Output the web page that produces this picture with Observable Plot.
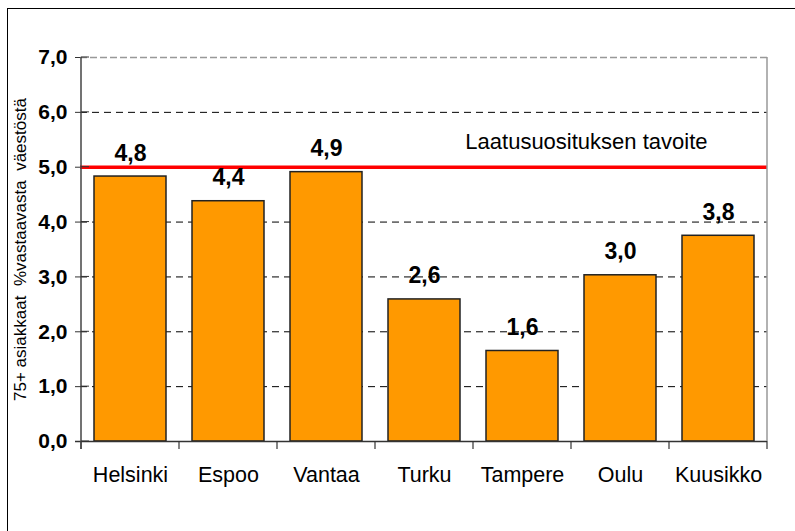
<!DOCTYPE html>
<html><head><meta charset="utf-8">
<script src="https://cdn.jsdelivr.net/npm/d3@7"></script>
<script src="https://cdn.jsdelivr.net/npm/@observablehq/plot@0.6"></script>
<style>
body{margin:0;background:#fff;}
#wrap{position:relative;width:795px;height:531px;overflow:hidden;font-family:"Liberation Sans",Arial,sans-serif;}
#border{position:absolute;left:7px;top:8px;width:840px;height:580px;border:1.5px solid #000;box-sizing:border-box;}
#chart{position:absolute;left:0;top:0;}
</style></head><body><div id="wrap"><div id="border"></div><div id="chart"></div></div>
<script>
const cities = ["Helsinki","Espoo","Vantaa","Turku","Tampere","Oulu","Kuusikko"];
const shares = [4.83,4.38,4.91,2.59,1.65,3.03,3.75];
const shareLabels = ["4,8","4,4","4,9","2,6","1,6","3,0","3,8"];
const yTicks = [0,1,2,3,4,5,6,7];
const yTickLabels = ["0,0","1,0","2,0","3,0","4,0","5,0","6,0","7,0"];
const gridValues = [1,2,3,4,5,6];
const topValue = 7;
const goalValue = 5;
const goalLabel = "Laatusuosituksen tavoite";
const yTitle = "75+ asiakkaat\u00a0 %vastaavasta\u00a0 väestöstä";

const rows = cities.map((c,i)=>({city:c, value:shares[i], label:shareLabels[i]}));
const padInner = 0.27;

function frameDecor(index, scales, values, dims) {
  const x = scales.x, y = scales.y;
  const bw = typeof x.bandwidth === "function" ? x.bandwidth() : x.bandwidth;
  const step = x(cities[1]) - x(cities[0]);
  const gap = step - bw;
  const y0 = y(0);
  const g = d3.create("svg:g");
  const bounds = cities.map(c => x(c) - gap/2);
  bounds.push(x(cities[cities.length-1]) + bw + gap/2);
  g.append("line").attr("x1", bounds[bounds.length-1]).attr("x2", bounds[bounds.length-1])
    .attr("y1", y(topValue)).attr("y2", y0).attr("stroke","#999").attr("stroke-width",1.5);
  for (const b of bounds) {
    g.append("line").attr("x1", b).attr("x2", b).attr("y1", y0).attr("y2", y0+8)
      .attr("stroke","#333").attr("stroke-width",1.2);
  }
  g.append("line").attr("x1", bounds[0]).attr("x2", bounds[0])
    .attr("y1", y(topValue)).attr("y2", y0+8).attr("stroke","#444").attr("stroke-width",1.5);
  for (const t of yTicks) {
    g.append("line").attr("x1", bounds[0]).attr("x2", bounds[0]+8).attr("y1", y(t)).attr("y2", y(t))
      .attr("stroke","#333").attr("stroke-width",1);
  }
  return g.node();
}

const chart = Plot.plot({
  width: 795,
  height: 531,
  marginLeft: 80,
  marginRight: 28,
  marginTop: 57,
  marginBottom: 90,
  style: {fontFamily: '"Liberation Sans", Arial, sans-serif', background: "transparent", color: "#000"},
  x: {domain: cities, paddingInner: padInner, paddingOuter: padInner/2, label: null},
  y: {domain: [0, 7], label: null},
  marks: [
    Plot.ruleY(gridValues, {stroke: "#000", strokeWidth: 1, strokeDasharray: "7,5"}),
    Plot.ruleY([topValue], {stroke: "#999", strokeWidth: 1.5, strokeDasharray: "7,3"}),
    Plot.barY(rows, {x: "city", y: "value", fill: "#FF9900", stroke: "#222", strokeWidth: 1.5}),
    Plot.ruleY([goalValue], {stroke: "#FF0000", strokeWidth: 3.5}),
    Plot.ruleY([0], {stroke: "#333", strokeWidth: 1.5, insetLeft: -5}),
    frameDecor,
    Plot.axisY(yTicks, {tickSize: 5, tickPadding: 8, tickFormat: (d) => yTickLabels[yTicks.indexOf(d)],
      fontSize: 21, fontWeight: "bold", stroke: "#333", label: null}),
    Plot.axisX({tickSize: 0, tickPadding: 25, fontSize: 21.5, label: null}),
    Plot.text(rows, {x: "city", y: "value", text: "label", dy: -16, lineAnchor: "bottom",
      fontSize: 23, fontWeight: "bold", fill: "#000"}),
    Plot.text([goalLabel], {y: [goalValue], text: d => d, frameAnchor: "right", dx: -60, dy: -25,
      textAnchor: "end", fontSize: 22, fill: "#000"}),
    Plot.text([yTitle], {frameAnchor: "left", dx: -60, rotate: -90, textAnchor: "middle", fontSize: 17, fill: "#000"})
  ]
});
document.getElementById("chart").appendChild(chart);
</script></body></html>
